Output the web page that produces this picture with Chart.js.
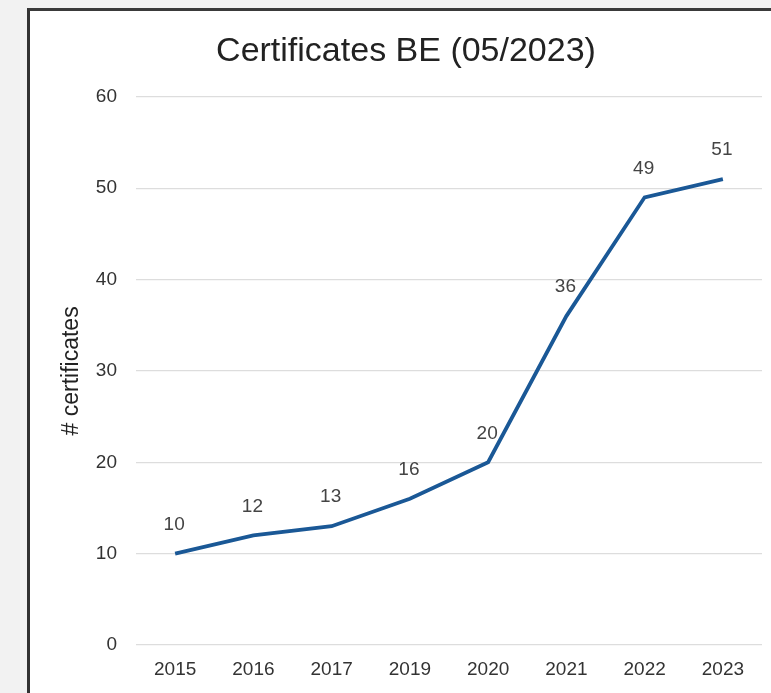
<!DOCTYPE html>
<html>
<head>
<meta charset="utf-8">
<script src="https://cdn.jsdelivr.net/npm/chart.js@4/dist/chart.umd.min.js"></script>
<style>
  html, body { margin: 0; padding: 0; background: #f2f2f2; width: 771px; height: 693px; overflow: hidden; }
  #frame { position: absolute; left: 27px; top: 8px; width: 760px; height: 700px; background: #ffffff;
           border-left: 3px solid #333333; border-top: 3px solid #3a3a3a; box-sizing: border-box; }
  #wrap { position: absolute; left: 0; top: 0; width: 771px; height: 693px; }
</style>
</head>
<body>
<div id="frame"></div>
<div id="wrap"><canvas id="c" width="771" height="693"></canvas></div>
<script>
const chartTitle = "Certificates BE (05/2023)";
const yAxisTitle = "# certificates";
const categories = ["2015", "2016", "2017", "2019", "2020", "2021", "2022", "2023"];
const certificates = [10, 12, 13, 16, 20, 36, 49, 51];
const yTicks = [0, 10, 20, 30, 40, 50, 60];

const pointLabels = {
  id: 'pointLabels',
  afterDatasetsDraw(chart) {
    const ctx = chart.ctx;
    const meta = chart.getDatasetMeta(0);
    ctx.save();
    ctx.font = '19px "Liberation Sans", Arial, sans-serif';
    ctx.fillStyle = '#444444';
    ctx.textAlign = 'center';
    ctx.textBaseline = 'middle';
    meta.data.forEach((pt, i) => {
      ctx.fillText(String(chart.data.datasets[0].data[i]), pt.x - 1, pt.y - 29);
    });
    ctx.restore();
  }
};

new Chart(document.getElementById('c'), {
  type: 'line',
  data: {
    labels: categories,
    datasets: [{
      data: certificates,
      borderColor: '#1a5896',
      borderWidth: 3.8,
      pointRadius: 0,
      tension: 0,
      fill: false
    }]
  },
  options: {
    responsive: false,
    animation: false,
    layout: { padding: { left: 50, right: 9, top: 0, bottom: 0 } },
    plugins: {
      legend: { display: false },
      tooltip: { enabled: false },
      title: {
        display: true,
        text: chartTitle,
        color: '#222222',
        font: { family: '"Liberation Sans", Arial, sans-serif', size: 34, weight: 'normal', lineHeight: 1.2 },
        padding: { top: 31, bottom: 25 }
      }
    },
    scales: {
      x: {
        offset: true,
        grid: { display: false, drawTicks: false },
        border: { display: false },
        ticks: { color: '#333333', padding: 13, font: { family: '"Liberation Sans", Arial, sans-serif', size: 19 } },
        afterFit(scale) { scale.height = 48; }
      },
      y: {
        min: 0, max: 60,
        afterBuildTicks(scale) { scale.ticks = yTicks.map(v => ({ value: v })); },
        grid: { color: '#dddddd', lineWidth: 1.3, drawTicks: false },
        border: { display: false },
        ticks: { color: '#333333', padding: 19, font: { family: '"Liberation Sans", Arial, sans-serif', size: 19 } },
        title: {
          display: true,
          text: yAxisTitle,
          color: '#222222',
          font: { family: '"Liberation Sans", Arial, sans-serif', size: 23 },
          padding: { top: 8, bottom: 0 }
        },
        afterFit(scale) { scale.width = 86; }
      }
    }
  },
  plugins: [pointLabels]
});
</script>
</body>
</html>
